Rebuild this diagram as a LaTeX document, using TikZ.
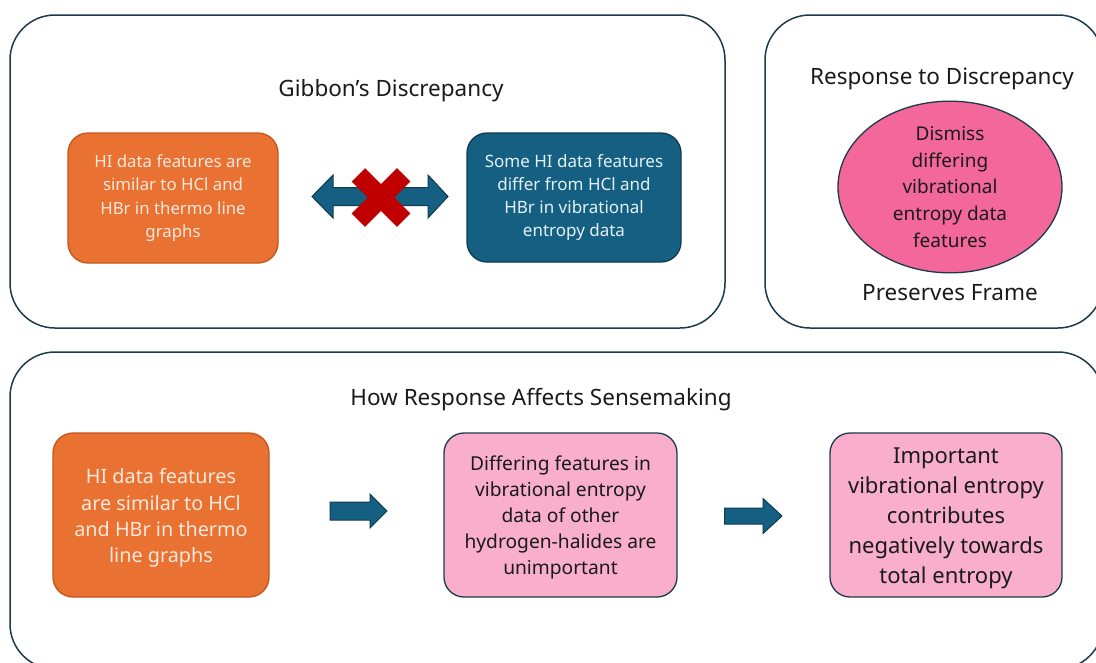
\documentclass[tikz,border=0pt]{standalone}
\usepackage{fontspec}
\setmainfont{Noto Sans}
\usetikzlibrary{shapes.geometric}

\definecolor{edgeblue}{HTML}{1C3A4A}
\definecolor{boxorange}{HTML}{E97132}
\definecolor{orangeedge}{HTML}{C4561C}
\definecolor{orangetext}{HTML}{FCE8DC}
\definecolor{tealfill}{HTML}{156082}
\definecolor{tealedge}{HTML}{0E3B50}
\definecolor{tealtext}{HTML}{E3F0F6}
\definecolor{lightpink}{HTML}{F9AECB}
\definecolor{hotpink}{HTML}{F4679A}
\definecolor{crossred}{HTML}{C00000}
\definecolor{ink}{HTML}{1A1A1A}

\tikzset{
  panel/.style={draw=edgeblue, line width=1.5pt, rounded corners=45pt, fill=white, inner sep=0pt},
  title/.style={text=ink, inner sep=0pt, font=\fontsize{22.5}{27}\selectfont},
  card/.style={rounded corners=20pt, line width=1.3pt, align=center, inner sep=0pt},
  orangecard/.style={card, fill=boxorange, draw=orangeedge, text=orangetext},
  tealcard/.style={card, fill=tealfill, draw=tealedge, text=tealtext},
  pinkcard/.style={card, fill=lightpink, draw=edgeblue, text=ink},
  cardtext/.style={align=center, inner sep=0pt},
  blockarrow/.style={fill=tealfill, draw=tealedge, line width=1pt, line join=miter},
}

\begin{document}
\begin{tikzpicture}[x=1pt, y=-1pt]
  \useasboundingbox (0,0) rectangle (1096,662);
  \clip (0,0) rectangle (1096,662);
  \fill[white] (0,0) rectangle (1096,662);

  % three panels
  \node[panel, minimum width=715pt, minimum height=313pt] (gibpanel) at (367.5,171.5) {};
  \node[panel, minimum width=338pt, minimum height=313pt] (resppanel) at (934,171.5) {};
  \node[panel, minimum width=1093pt, minimum height=317pt] (sensepanel) at (556.5,510.5) {};

  % panel headings
  \node[title] (gibtitle) at (391,91) {Gibbon’s Discrepancy};
  \node[title] (resptitle) at (942,79) {Response to Discrepancy};
  \node[title] (frame) at (950,293) {Preserves Frame};
  \node[title] (sensetitle) at (541,400) {How Response Affects Sensemaking};

  % discrepancy cards
  \node[orangecard, minimum width=210pt, minimum height=130pt,
        font=\fontsize{16.8}{23.3}\selectfont] (similar) at (173,198)
    {HI data features are\\similar to HCl and\\HBr in thermo line\\graphs};
  \node[tealcard, minimum width=214pt, minimum height=129pt,
        font=\fontsize{17}{23.3}\selectfont] (differ) at (574,197.5)
    {Some HI data features\\differ from HCl and\\HBr in vibrational\\entropy data};

  % crossed-out double arrow between the cards
  \coordinate (dbl) at (380,196.5);
  \begin{scope}[shift={(dbl)}]
    \draw[blockarrow] (-68,0) -- (-47,-21.5) -- (-47,-9) -- (48,-9) -- (48,-21.5)
      -- (68,0) -- (48,21.5) -- (48,9) -- (-47,9) -- (-47,21.5) -- cycle;
  \end{scope}
  \begin{scope}[shift={(381,197.5)}]
    \fill[crossred, rotate=45] (-32,-9.5) rectangle (32,9.5);
    \fill[crossred, rotate=-45] (-32,-9.5) rectangle (32,9.5);
  \end{scope}

  % response
  \node[ellipse, fill=hotpink, draw=edgeblue, line width=1.3pt,
        minimum width=224pt, minimum height=150pt, inner sep=0pt, align=center,
        text=ink, font=\fontsize{19}{26.8}\selectfont] (dismiss) at (950,187)
    {Dismiss\\differing\\vibrational\\entropy data\\features};

  % sensemaking chain: boxes, then their texts
  \node[orangecard, minimum width=216pt, minimum height=164pt] (similar2) at (161,515) {};
  \node[pinkcard, minimum width=233pt, minimum height=164pt] (unimportant) at (560.5,515) {};
  \node[pinkcard, minimum width=232pt, minimum height=164pt] (important) at (946,515) {};

  \node[cardtext, text=orangetext, font=\fontsize{19.8}{26.3}\selectfont]
    (similar2text) at ([yshift=-3pt]similar2.center)
    {HI data features\\are similar to HCl\\and HBr in thermo\\line graphs};
  \node[cardtext, text=ink, font=\fontsize{19.2}{26.2}\selectfont]
    (unimportanttext) at ([yshift=-2.5pt]unimportant.center)
    {Differing features in\\vibrational entropy\\data of other\\hydrogen-halides are\\unimportant};
  \node[cardtext, text=ink, font=\fontsize{22}{30}\selectfont]
    (importanttext) at ([yshift=-3pt]important.center)
    {Important\\vibrational entropy\\contributes\\negatively towards\\total entropy};

  % block arrows along the chain
  \coordinate (stepone) at (358.5,511);
  \begin{scope}[shift={(stepone)}]
    \draw[blockarrow] (-28.5,-9) -- (11.5,-9) -- (11.5,-17) -- (28.5,0)
      -- (11.5,17) -- (11.5,9) -- (-28.5,9) -- cycle;
  \end{scope}
  \coordinate (steptwo) at (753,516);
  \begin{scope}[shift={(steptwo)}]
    \draw[blockarrow] (-28.5,-8) -- (10,-8) -- (10,-17.5) -- (29,0)
      -- (10,17.5) -- (10,8) -- (-28.5,8) -- cycle;
  \end{scope}
\end{tikzpicture}
\end{document}
